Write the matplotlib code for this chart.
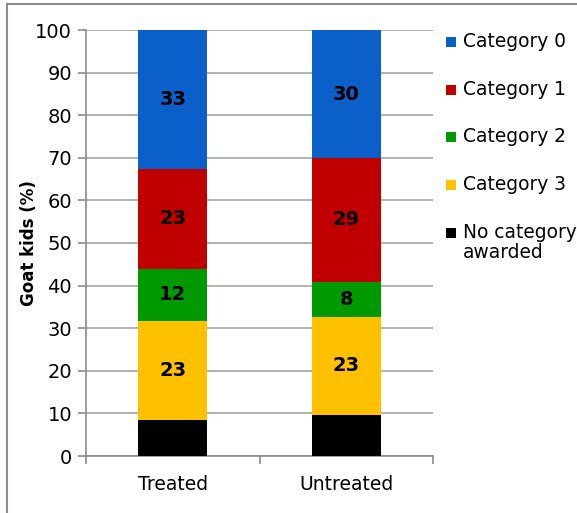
import numpy as np
import matplotlib
matplotlib.use('Agg')
from matplotlib import pyplot as plt
from matplotlib.patches import Rectangle

groups = ['Treated', 'Untreated']
# stacked from the bottom up
series_names = ['No category\nawarded', 'Category 3', 'Category 2', 'Category 1', 'Category 0']
series_colors = ['#000000', '#FFC000', '#009900', '#C00000', '#0A5FC8']
no_category = [8.5, 9.6]
category3 = [23.3, 23.1]
category2 = [12.1, 8.2]
category1 = [23.5, 29.0]
category0 = [32.6, 30.1]
shown_labels = [None, [23, 23], [12, 8], [23, 29], [33, 30]]

plt.rcParams['font.family'] = 'DejaVu Sans'

W, H = 577, 513
fig = plt.figure(figsize=(W / 100, H / 100), dpi=100)
fig.patches.append(Rectangle((7 / W, -0.1), 1.2, 1.1 - 4 / H,
                             transform=fig.transFigure, fill=False,
                             edgecolor='#8c8c8c', linewidth=1.5))
ax = fig.add_axes([86 / W, 57 / H, 347 / W, 426 / H])

x = np.arange(len(groups))
bottom = np.zeros(len(groups))
for vals, name, col, labs in zip([no_category, category3, category2, category1, category0],
                                 series_names, series_colors, shown_labels):
    vals = np.array(vals)
    ax.bar(x, vals, width=0.4, bottom=bottom, color=col, label=name, zorder=3)
    if labs is not None:
        for xi, v, bt, lab in zip(x, vals, bottom, labs):
            ax.text(xi, bt + v / 2, str(lab), ha='center', va='center',
                    fontsize=14, fontweight='bold', color='black', zorder=4)
    bottom += vals

ax.set_xlim(-0.5, 1.5)
ax.set_ylim(0, 100)
ax.set_yticks(np.arange(0, 101, 10))
ax.set_xticks([-0.5, 0.5, 1.5], minor=False)
ax.set_xticklabels([])
ax.set_xticks(x, minor=True)
ax.set_xticklabels(groups, minor=True, fontsize=13.5)
ax.tick_params(axis='x', which='minor', length=0, pad=14)
ax.tick_params(axis='x', which='major', length=6, color='#8c8c8c', width=1.2)
ax.tick_params(axis='y', length=6, color='#8c8c8c', width=1.2, labelsize=14, pad=4)
ax.yaxis.grid(True, color='#a6a6a6', linewidth=1.2, zorder=0)
ax.set_axisbelow(True)
for s in ['top', 'right']:
    ax.spines[s].set_visible(False)
for s in ['left', 'bottom']:
    ax.spines[s].set_color('#8c8c8c')
    ax.spines[s].set_linewidth(1.2)
ax.set_ylabel('Goat kids (%)', fontsize=12, fontweight='bold')
ax.yaxis.set_label_coords(-48 / 347, 0.5)

# legend, top entry first
leg_rows = [42, 90, 137, 185, 233]
for row, name, col in zip(leg_rows, series_names[::-1], series_colors[::-1]):
    fig.patches.append(Rectangle((446 / W, 1 - (row + 5) / H), 10 / W, 10 / H,
                                 transform=fig.transFigure, facecolor=col,
                                 edgecolor='none'))
    fig.text(463 / W, 1 - (row - 10) / H, name, ha='left', va='top',
             fontsize=13.4, linespacing=1.05)

fig.savefig('out.png', dpi=100)
